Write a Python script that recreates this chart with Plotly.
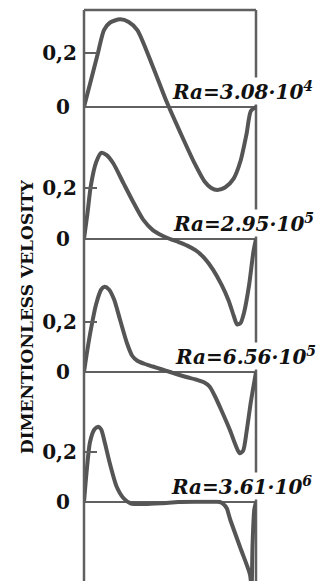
import plotly.graph_objects as go

# ---- data ----
x1 = [0, 0.04, 0.08, 0.116, 0.15, 0.21, 0.26, 0.31, 0.40, 0.48, 0.56, 0.64, 0.70, 0.74, 0.775, 0.82, 0.87, 0.91, 0.945, 0.97, 1.0]
v1 = [0, 0.098, 0.197, 0.285, 0.312, 0.325, 0.315, 0.285, 0.15, 0.02, -0.095, -0.205, -0.275, -0.300, -0.307, -0.298, -0.265, -0.2, -0.1, -0.015, 0.0]

x2 = [0, 0.02, 0.04, 0.07, 0.10, 0.13, 0.17, 0.23, 0.29, 0.345, 0.40, 0.45, 0.50, 0.55, 0.60, 0.65, 0.70, 0.75, 0.80, 0.84, 0.87, 0.89, 0.91, 0.93, 0.96, 0.985, 1.0]
v2 = [0, 0.10, 0.21, 0.30, 0.338, 0.33, 0.297, 0.218, 0.14, 0.075, 0.035, 0.015, 0.0, -0.012, -0.026, -0.045, -0.075, -0.12, -0.18, -0.24, -0.30, -0.335, -0.33, -0.29, -0.18, -0.05, 0.0]

x3 = [0, 0.02, 0.04, 0.07, 0.10, 0.12, 0.145, 0.175, 0.21, 0.25, 0.28, 0.31, 0.35, 0.40, 0.45, 0.50, 0.55, 0.60, 0.65, 0.70, 0.73, 0.76, 0.80, 0.85, 0.88, 0.905, 0.925, 0.945, 0.97, 1.0]
v3 = [0, 0.09, 0.17, 0.27, 0.33, 0.341, 0.33, 0.29, 0.208, 0.115, 0.065, 0.045, 0.033, 0.022, 0.011, 0.0, -0.011, -0.021, -0.03, -0.042, -0.058, -0.095, -0.155, -0.235, -0.29, -0.325, -0.315, -0.24, -0.12, 0.0]

x4 = [0, 0.015, 0.035, 0.06, 0.083, 0.10, 0.12, 0.15, 0.19, 0.23, 0.27, 0.35, 0.45, 0.55, 0.65, 0.72, 0.77, 0.79, 0.81, 0.83, 0.85, 0.91, 0.965, 0.974, 0.98, 0.99, 1.0]
v4 = [0, 0.12, 0.24, 0.29, 0.301, 0.29, 0.24, 0.155, 0.061, 0.015, -0.005, -0.008, -0.005, 0.0, 0.001, 0.001, 0.001, 0.0, -0.008, -0.025, -0.07, -0.185, -0.29, -0.34, -0.17, -0.03, 0.0]

ra_labels = ["Ra=3.08·10<sup>4</sup>", "Ra=2.95·10<sup>5</sup>",
             "Ra=6.56·10<sup>5</sup>", "Ra=3.61·10<sup>6</sup>"]
tick_vals = [0, 0.2]
tick_text = ["0\u00a0", "0,2"]
y_title = "DIMENTIONLESS VELOSITY"

xs = [x1, x2, x3, x4]
vs = [v1, v2, v3, v4]

# ---- layout geometry ----
W, H = 318, 581
ML, MR, MT, MB = 84, 62, 10, 0
PH = H - MT - MB
PW = W - ML - MR
zero_px = [107, 239, 372, 502]
px_per_unit = [270, 255, 250, 250]

LINE = "#555555"
FRAME = "#606060"
TXT = "#111111"
tick_font = dict(family="DejaVu Serif", size=20, color=TXT, weight="bold")
ra_font = dict(family="DejaVu Serif", size=20, color=TXT, weight="bold", style="italic")

fig = go.Figure()
for i in range(4):
    yname = "y" if i == 0 else f"y{i+1}"
    fig.add_trace(go.Scatter(x=xs[i], y=vs[i], mode="lines", xaxis="x", yaxis=yname,
                             line=dict(color=LINE, width=4, shape="spline", smoothing=0.7),
                             hoverinfo="skip"))

layout = dict(
    width=W, height=H,
    margin=dict(l=ML, r=MR, t=MT, b=MB, pad=0),
    paper_bgcolor="white", plot_bgcolor="white",
    showlegend=False,
    xaxis=dict(range=[0, 1], visible=False, fixedrange=True),
)
for i in range(4):
    top = (zero_px[i] - MT) / px_per_unit[i]
    bot = -(MT + PH - zero_px[i]) / px_per_unit[i]
    ax = dict(range=[bot, top], showgrid=False, showline=False,
              zeroline=True, zerolinecolor=FRAME, zerolinewidth=2,
              tickmode="array", tickvals=tick_vals, ticktext=tick_text,
              ticks="inside", ticklen=13, tickwidth=2, tickcolor=FRAME,
              tickfont=tick_font, ticklabelstandoff=6, automargin=False,
              anchor="x", side="left", fixedrange=True)
    if i > 0:
        ax["overlaying"] = "y"
    layout["yaxis" if i == 0 else f"yaxis{i+1}"] = ax
fig.update_layout(**layout)

# frame lines
fig.add_shape(type="line", xref="paper", yref="paper", x0=0, x1=0, y0=0, y1=1,
              line=dict(color=FRAME, width=2.5), layer="above")
fig.add_shape(type="line", xref="paper", yref="paper", x0=1, x1=1, y0=0, y1=1,
              line=dict(color=FRAME, width=2.5), layer="below")
fig.add_shape(type="line", xref="paper", yref="paper", x0=0, x1=1, y0=1, y1=1,
              line=dict(color=FRAME, width=2.5), layer="above")

# Ra labels
label_right_px = [314, 315, 317, 313]
for i in range(4):
    yref = "y" if i == 0 else f"y{i+1}"
    fig.add_annotation(text=ra_labels[i], xref="paper", yref=yref,
                       x=(label_right_px[i] - ML) / PW, y=0,
                       xanchor="right", yanchor="bottom", yshift=2,
                       showarrow=False, bgcolor="white", borderpad=0,
                       font=ra_font)

# y title
fig.add_annotation(text=y_title, xref="paper", yref="paper",
                   x=(27 - ML) / PW, y=(H - MB - 317) / PH,
                   xanchor="center", yanchor="middle", textangle=-90,
                   showarrow=False, font=dict(family="DejaVu Serif", size=17, color=TXT, weight="bold"))

fig.write_html("out.html", config={"displayModeBar": False, "staticPlot": True},
               post_script="document.body.style.margin='0';")
